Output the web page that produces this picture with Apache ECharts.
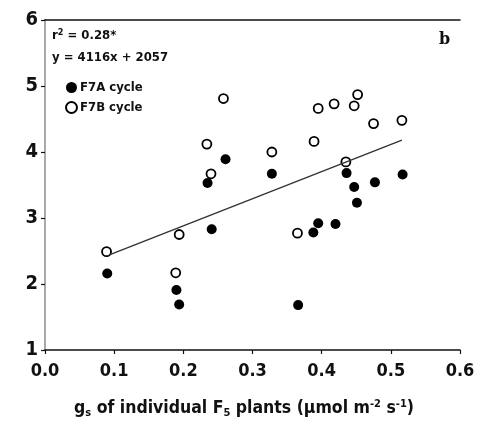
<!DOCTYPE html>
<html><head><meta charset="utf-8">
<script src="https://cdn.jsdelivr.net/npm/echarts@6/dist/echarts.min.js"></script>
<style>html,body{margin:0;padding:0;background:#fff}#c{width:488px;height:425px}</style>
</head><body><div id="c"></div>
<script>
const xTicks = [0.0, 0.1, 0.2, 0.3, 0.4, 0.5, 0.6];
const yTicks = [1, 2, 3, 4, 5, 6];
const f7aX = [0.090, 0.190, 0.194, 0.235, 0.241, 0.261, 0.328, 0.366, 0.388, 0.395, 0.420, 0.436, 0.447, 0.451, 0.477, 0.517];
const f7aY = [2.16, 1.91, 1.69, 3.53, 2.83, 3.89, 3.67, 1.68, 2.78, 2.92, 2.91, 3.68, 3.47, 3.23, 3.54, 3.66];
const f7bX = [0.089, 0.189, 0.194, 0.234, 0.240, 0.258, 0.328, 0.365, 0.389, 0.395, 0.418, 0.435, 0.447, 0.452, 0.475, 0.516];
const f7bY = [2.49, 2.17, 2.75, 4.12, 3.67, 4.81, 4.00, 2.77, 4.16, 4.66, 4.73, 3.85, 4.70, 4.87, 4.43, 4.48];
const fitX = [0.093, 0.516];
const fitY = [2.44, 4.18];
const seriesNames = ['F7A cycle', 'F7B cycle'];
const statText = ['r', '2', ' = 0.28*'];
const eqText = 'y = 4116x + 2057';
const panelLabel = 'b';

const zip = (a, b) => a.map((v, i) => [v, b[i]]);
const font = "'DejaVu Sans Condensed'";
const chart = echarts.init(document.getElementById('c'));
chart.setOption({
  animation: false,
  grid: { left: 45, right: 28, top: 20, bottom: 75, show: false },
  xAxis: [{
    type: 'value', min: 0, max: 0.6, interval: 0.1,
    axisLine: { lineStyle: { color: '#111', width: 1.5 } },
    axisTick: { show: true, length: 4, lineStyle: { color: '#111', width: 1.2 } },
    splitLine: { show: false },
    axisLabel: { color: '#111', fontFamily: font, fontWeight: 'bold', fontSize: 18, margin: 12, formatter: v => v.toFixed(1) }
  }, {
    type: 'value', min: 0, max: 0.6, position: 'top',
    axisLine: { show: true, lineStyle: { color: '#111', width: 1.5 } },
    axisTick: { show: false }, axisLabel: { show: false }, splitLine: { show: false }
  }],
  yAxis: [{
    type: 'value', min: 1, max: 6, interval: 1,
    axisLine: { show: true, lineStyle: { color: '#111', width: 1.5 } },
    axisTick: { show: true, length: 4, lineStyle: { color: '#111', width: 1.2 } },
    splitLine: { show: false },
    axisLabel: { color: '#111', fontFamily: font, fontWeight: 'bold', fontSize: 20, margin: 7 }
  }, {
    type: 'value', min: 1, max: 6, position: 'right',
    axisLine: { show: true, lineStyle: { color: '#aaa', width: 2 } },
    axisTick: { show: false }, axisLabel: { show: false }, splitLine: { show: false }
  }],
  legend: {
    left: 60, top: 76, orient: 'vertical', itemGap: 7, itemWidth: 11, itemHeight: 11,
    textStyle: { fontFamily: font, fontWeight: 'bold', fontSize: 13, color: '#111', padding: [0, 0, 0, -2] },
    data: [seriesNames[0], seriesNames[1]]
  },
  series: [
    { type: 'line', data: zip(fitX, fitY), symbol: 'none', lineStyle: { color: '#333', width: 1.4 }, silent: true },
    { name: seriesNames[0], type: 'scatter', data: zip(f7aX, f7aY), symbol: 'circle', symbolSize: 10,
      itemStyle: { color: '#000', opacity: 1 } },
    { name: seriesNames[1], type: 'scatter', data: zip(f7bX, f7bY), symbol: 'circle', symbolSize: 9,
      itemStyle: { color: '#fff', borderColor: '#000', borderWidth: 1.8, opacity: 1 } }
  ],
  graphic: [
    { type: 'text', left: 52, top: 28, style: {
        rich: { n: { fontFamily: font, fontWeight: 'bold', fontSize: 13, fill: '#111' }, s: { fontFamily: font, fontWeight: 'bold', fontSize: 9, fill: '#111', verticalAlign: 'top', padding: [0,0,6,0] } },
        text: '{n|' + statText[0] + '}{s|' + statText[1] + '}{n|' + statText[2] + '}' } },
    { type: 'text', left: 52, top: 51, style: { text: eqText, fontFamily: font, fontWeight: 'bold', fontSize: 13, fill: '#111' } },
    { type: 'text', left: 439, top: 32, style: { text: panelLabel, fontFamily: "'DejaVu Serif','Liberation Serif',serif", fontWeight: 'bold', fontSize: 16, fill: '#111' } },
    { type: 'text', left: 'center', top: 399, style: {
        rich: {
          n: { fontFamily: font, fontWeight: 'bold', fontSize: 17.5, fill: '#111' },
          sb: { fontFamily: font, fontWeight: 'bold', fontSize: 11, fill: '#111', padding: [10, 0, 0, 0] },
          sp: { fontFamily: font, fontWeight: 'bold', fontSize: 11, fill: '#111', padding: [0, 0, 8, 0] }
        },
        text: '{n|g}{sb|s}{n| of individual F}{sb|5}{n| plants (µmol m}{sp|-2}{n| s}{sp|-1}{n|)}' } }
  ]
});
</script></body></html>
